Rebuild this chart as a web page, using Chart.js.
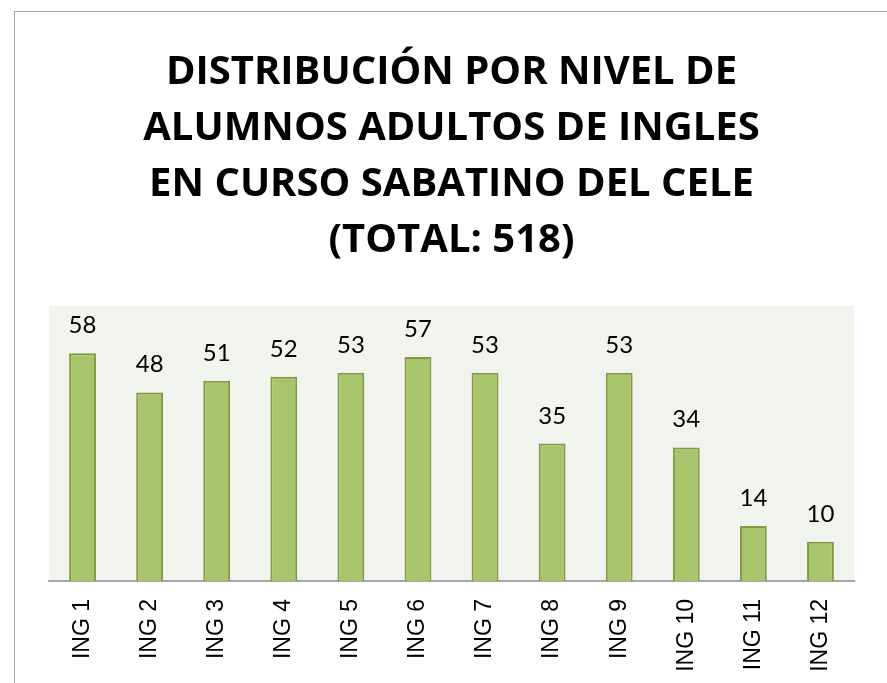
<!DOCTYPE html>
<html>
<head>
<meta charset="utf-8">
<script src="https://cdn.jsdelivr.net/npm/chart.js@4.4.0/dist/chart.umd.min.js"></script>
<style>
  html, body { margin: 0; padding: 0; background: #fff; overflow: hidden; }
  canvas { display: block; }
</style>
</head>
<body>
<canvas id="levelsChart" width="887" height="683"></canvas>
<script>
const levels = ["ING 1", "ING 2", "ING 3", "ING 4", "ING 5", "ING 6", "ING 7", "ING 8", "ING 9", "ING 10", "ING 11", "ING 12"];
const students = [58, 48, 51, 52, 53, 57, 53, 35, 53, 34, 14, 10];
const titleLines = ["DISTRIBUCIÓN POR NIVEL DE", "ALUMNOS ADULTOS DE INGLES", "EN CURSO SABATINO DEL CELE", "(TOTAL: 518)"];

// light plot background + outer frame
const backdrop = {
    id: 'backdrop',
    beforeDraw(chart) {
        const { ctx, chartArea } = chart;
        ctx.save();
        ctx.strokeStyle = '#a6a6a6';
        ctx.lineWidth = 1;
        ctx.strokeRect(14.5, 11.5, 1000, 1000);
        ctx.fillStyle = '#f1f3ed';
        ctx.fillRect(chartArea.left, chartArea.top, chartArea.right - chartArea.left, chartArea.bottom - chartArea.top);
        ctx.restore();
    }
};

// value on top of each bar
const valueLabels = {
    id: 'valueLabels',
    afterDatasetsDraw(chart) {
        const { ctx } = chart;
        const meta = chart.getDatasetMeta(0);
        ctx.save();
        ctx.font = '24px Lato';
        ctx.fillStyle = '#000';
        ctx.textAlign = 'center';
        ctx.textBaseline = 'alphabetic';
        meta.data.forEach((bar, i) => {
            ctx.fillText(students[i], bar.x, bar.y - 20);
        });
        ctx.restore();
    }
};

const ctx = document.getElementById('levelsChart').getContext('2d');
new Chart(ctx, {
    type: 'bar',
    data: {
        labels: levels,
        datasets: [{
            data: students,
            backgroundColor: '#aac46c',
            borderColor: '#7f9a45',
            borderWidth: 2,
            barPercentage: 0.4,
            categoryPercentage: 1
        }]
    },
    options: {
        responsive: false,
        animation: false,
        devicePixelRatio: 1,
        layout: { padding: { left: 49, right: 33, top: 0, bottom: 0 } },
        plugins: {
            legend: { display: false },
            tooltip: { enabled: false },
            title: {
                display: true,
                text: titleLines,
                color: '#000',
                font: { family: 'Open Sans', size: 40, weight: 'bold', lineHeight: 1.4 },
                padding: { top: 45, bottom: 37 }
            }
        },
        scales: {
            x: {
                grid: { display: false, drawTicks: false },
                border: { display: true, color: '#a6a6a6', width: 2 },
                ticks: {
                    color: '#000',
                    font: { family: 'Liberation Sans', size: 23 },
                    minRotation: 90,
                    maxRotation: 90,
                    padding: 18
                },
                afterFit(scale) { scale.height = 102; }
            },
            y: {
                display: false,
                min: 0,
                max: 70
            }
        }
    },
    plugins: [backdrop, valueLabels]
});
</script>
</body>
</html>
